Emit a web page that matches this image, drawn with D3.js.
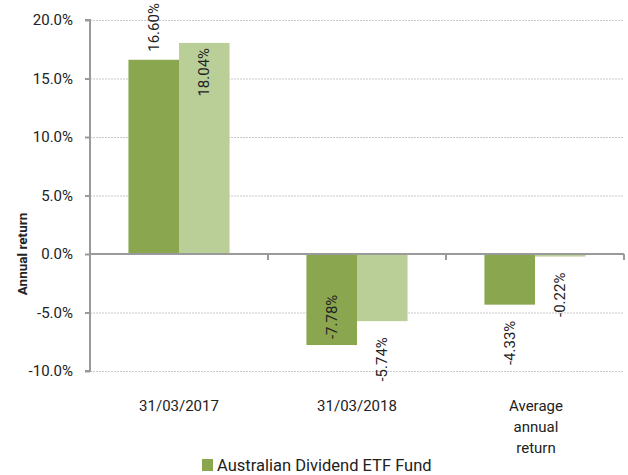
<!DOCTYPE html>
<html><head><meta charset="utf-8">
<script src="https://cdn.jsdelivr.net/npm/d3@7"></script>
<style>body{margin:0;background:#fff}svg{display:block}text{font-family:Roboto,"Noto Sans",sans-serif;fill:#222}</style>
</head><body>
<script>
const categories = ["31/03/2017", "31/03/2018", "Average annual return"];
const categoryLines = [["31/03/2017"], ["31/03/2018"], ["Average", "annual", "return"]];
const seriesNames = ["Australian Dividend ETF Fund", "Benchmark"];
const fundValues = [16.60, -7.78, -4.33];
const benchmarkValues = [18.04, -5.74, -0.22];
const yTicks = [-10, -5, 0, 5, 10, 15, 20];
const yTickLabels = ["-10.0%", "-5.0%", "0.0%", "5.0%", "10.0%", "15.0%", "20.0%"];
const colors = ["#8aa64e", "#bacf97"];

const W = 628, H = 475;
const svg = d3.select("body").append("svg").attr("width", W).attr("height", H);
const pL = 90, pR = 624, pT = 20, pB = 371;
const x = d3.scaleBand().domain(categories).range([pL, pR]).paddingInner(0).paddingOuter(0);
const y = d3.scaleLinear().domain([-10, 20]).range([pB, pT]);
const inner = d3.scaleBand().domain([0, 1]).range([0, x.bandwidth()]).paddingOuter(0.76).paddingInner(0);

// gridlines
svg.append("g").selectAll("line").data(yTicks.filter(t => t !== 0)).join("line")
  .attr("x1", pL).attr("x2", pR).attr("y1", d => y(d) + 0.5).attr("y2", d => y(d) + 0.5)
  .attr("stroke", "#c8c8c8").attr("stroke-dasharray", "2,1").attr("stroke-width", 1);

// bars
const series = [fundValues, benchmarkValues];
series.forEach((vals, si) => {
  svg.append("g").selectAll("rect").data(vals).join("rect")
    .attr("x", (d, i) => x(categories[i]) + inner(si))
    .attr("width", inner.bandwidth())
    .attr("y", d => y(Math.max(0, d)))
    .attr("height", d => Math.abs(y(d) - y(0)))
    .attr("fill", colors[si]);
});

// y axis
const yAxis = d3.axisLeft(y).tickValues(yTicks).tickFormat((d, i) => yTickLabels[i]).tickSize(5).tickPadding(12);
const ga = svg.append("g").attr("transform", `translate(${pL},0)`).call(yAxis);
ga.select(".domain").attr("stroke", "#9a9a9a").attr("stroke-width", 2).attr("d", `M-5,${pT}H0V${pB}H-5`);
ga.selectAll(".tick line").attr("stroke", "#9a9a9a").attr("stroke-width", 2);
ga.selectAll(".tick text").attr("font-size", 15).attr("fill", "#222").style("font-family", "Roboto");

// zero axis line
const gx = svg.append("g").attr("transform", `translate(0,${y(0)})`)
  .call(d3.axisBottom(x).tickSize(5).tickFormat(""));
gx.select(".domain").attr("stroke", "#9a9a9a").attr("stroke-width", 2).attr("d", `M${pL},0H${pR}`);
gx.selectAll(".tick").remove();
[pL + x.bandwidth(), pL + 2 * x.bandwidth(), pR].forEach(px => {
  gx.append("line").attr("x1", px).attr("x2", px).attr("y1", 0).attr("y2", 6).attr("stroke", "#9a9a9a").attr("stroke-width", 2);
});

// category labels
categories.forEach((c, i) => {
  const cx = x(c) + x.bandwidth() / 2 + (i === 2 ? 1 : 0);
  const t = svg.append("text").attr("text-anchor", "middle").attr("font-size", 15).attr("y", 411);
  categoryLines[i].forEach((ln, j) => t.append("tspan").attr("x", cx).attr("dy", j === 0 ? 0 : 21).text(ln));
});

// data labels (rotated)
const fmt = v => v.toFixed(2) + "%";
const placements = [["out", "in", "out"], ["in", "out", "out"]];
series.forEach((vals, si) => {
  vals.forEach((v, i) => {
    const cx = x(categories[i]) + inner(si) + inner.bandwidth() / 2;
    const end = y(v);
    const pl = placements[si][i];
    let ty, anchor;
    if (v >= 0) {
      if (pl === "out") { ty = end - 8; anchor = "start"; } else { ty = end + 5; anchor = "end"; }
    } else {
      if (pl === "out") { ty = end + 16; anchor = "end"; } else { ty = end - 6; anchor = "start"; }
    }
    svg.append("text").attr("font-size", 15).attr("text-anchor", anchor)
      .attr("transform", `translate(${cx + 5},${ty}) rotate(-90)`).text(fmt(v));
  });
});

// y title
svg.append("text").attr("font-size", 13.5).attr("font-weight", "bold").attr("text-anchor", "middle")
  .attr("transform", `translate(27,${y(0)}) rotate(-90)`).text("Annual return");

// legend
svg.append("rect").attr("x", 202).attr("y", 459).attr("width", 11).attr("height", 12).attr("fill", colors[0]);
svg.append("text").attr("x", 217).attr("y", 471).attr("font-size", 16.5).text(seriesNames[0]);
</script>
</body></html>
